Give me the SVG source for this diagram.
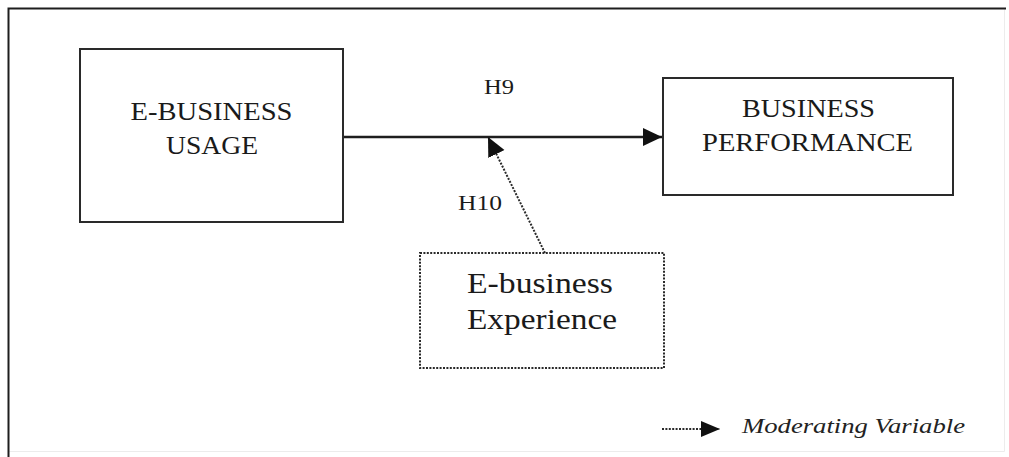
<svg xmlns="http://www.w3.org/2000/svg" width="1009" height="457" viewBox="0 0 1009 457">
  <style>
    .frame { fill: none; stroke: #1e1e1e; stroke-width: 2; }
    .frame-faint { fill: none; stroke: #ececec; stroke-width: 1; }
    .box { fill: #ffffff; stroke: #2a2a2a; stroke-width: 2; }
    .box-dotted { fill: #ffffff; stroke: #2a2a2a; stroke-width: 2; stroke-dasharray: 2 1.4; }
    .label { fill: #1a1a1a; }
    .legend { font-style: italic; fill: #222222; }
    .edge { fill: none; stroke: #1e1e1e; stroke-width: 2.5; }
    .edge-dotted { fill: none; stroke: #2a2a2a; stroke-width: 2; stroke-dasharray: 2 1.4; }
  </style>
  <defs>
    <marker id="head" markerUnits="userSpaceOnUse" markerWidth="20" markerHeight="20" refX="19" refY="9" orient="auto">
      <path d="M0,0 L19,9 L0,18 Z" fill="#111111"/>
    </marker>
    <marker id="head-small" markerUnits="userSpaceOnUse" markerWidth="20" markerHeight="20" refX="19" refY="8" orient="auto">
      <path d="M0,0 L19,8 L0,16 Z" fill="#111111"/>
    </marker>
  </defs>

  <rect width="1009" height="457" fill="#ffffff"/>

  <!-- outer frame -->
  <g id="frame">
    <path class="frame-faint" d="M1004.5,9 V451.5 H9"/>
    <path class="frame" d="M8.5,457 V8.5 H1006"/>
  </g>

  <g font-family="'Liberation Serif', 'Times New Roman', Times, serif">
    <!-- connectors -->
    <g id="connectors">
      <line class="edge" x1="343" y1="137" x2="662" y2="137" marker-end="url(#head)"/>
      <line class="edge-dotted" x1="545" y1="253" x2="488" y2="137" marker-end="url(#head)"/>
      <text class="label" x="499" y="94" text-anchor="middle" font-size="22" textLength="30" lengthAdjust="spacingAndGlyphs">H9</text>
      <text class="label" x="480" y="210" text-anchor="middle" font-size="22" textLength="44" lengthAdjust="spacingAndGlyphs">H10</text>
    </g>

    <!-- E-business usage -->
    <g id="ebusiness-usage">
      <rect class="box" x="80" y="49" width="263" height="173"/>
      <text class="label" x="211.5" y="120" text-anchor="middle" font-size="25" textLength="162" lengthAdjust="spacingAndGlyphs">E-BUSINESS</text>
      <text class="label" x="212" y="154" text-anchor="middle" font-size="25" textLength="92" lengthAdjust="spacingAndGlyphs">USAGE</text>
    </g>

    <!-- Business performance -->
    <g id="business-performance">
      <rect class="box" x="663" y="78" width="290" height="117"/>
      <text class="label" x="808.5" y="117" text-anchor="middle" font-size="25" textLength="133" lengthAdjust="spacingAndGlyphs">BUSINESS</text>
      <text class="label" x="807.5" y="151" text-anchor="middle" font-size="25" textLength="211" lengthAdjust="spacingAndGlyphs">PERFORMANCE</text>
    </g>

    <!-- E-business experience (moderator) -->
    <g id="ebusiness-experience">
      <rect class="box-dotted" x="420" y="253" width="244" height="115"/>
      <text class="label" x="467" y="293" font-size="29" textLength="146" lengthAdjust="spacingAndGlyphs">E-business</text>
      <text class="label" x="467" y="329" font-size="29" textLength="150" lengthAdjust="spacingAndGlyphs">Experience</text>
    </g>

    <!-- legend -->
    <g id="legend">
      <line class="edge-dotted" x1="662" y1="429" x2="720" y2="429" marker-end="url(#head-small)"/>
      <text class="legend" x="742" y="433" font-size="22" textLength="223" lengthAdjust="spacingAndGlyphs">Moderating Variable</text>
    </g>
  </g>
</svg>
